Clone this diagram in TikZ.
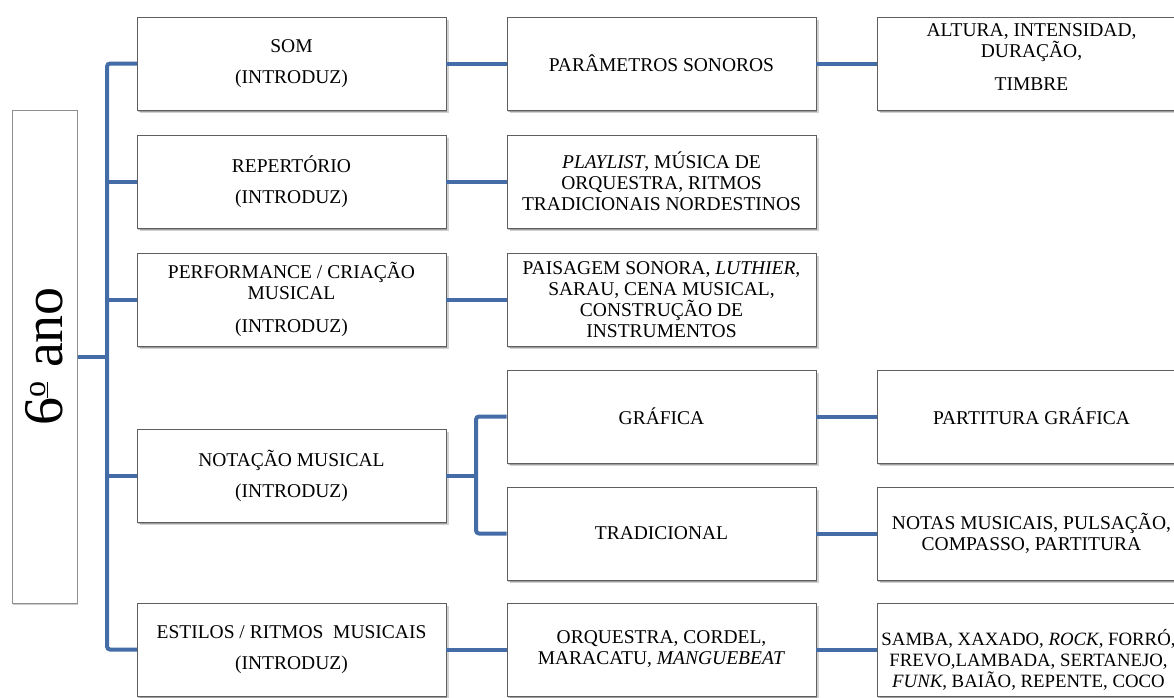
\documentclass[tikz,border=0pt]{standalone}
\usepackage{fontspec}
\setmainfont{Liberation Serif}
\usetikzlibrary{shadows}
\definecolor{linkblue}{RGB}{68,108,166}
\definecolor{boxline}{RGB}{95,95,95}
\begin{document}
\begin{tikzpicture}[x=1pt,y=-1pt,
  softshadow/.style={
    drop shadow={shadow xshift=2.6pt, shadow yshift=-3.2pt, opacity=0.18, fill=black},
    drop shadow={shadow xshift=1.4pt, shadow yshift=-2pt, opacity=0.25, fill=black}},
  box/.style={draw=boxline, line width=0.8pt, fill=white,
    minimum width=309pt, minimum height=93pt, inner sep=0pt,
    align=center, font=\fontsize{19.5}{21}\selectfont, softshadow},
  boxtext/.style={inner sep=0pt, align=center, font=\fontsize{19.5}{21}\selectfont},
  rootbox/.style={draw=boxline!70, line width=1pt, fill=white,
    minimum width=65pt, minimum height=493pt, inner sep=0pt,
    drop shadow={shadow xshift=1.2pt, shadow yshift=-1.5pt, opacity=0.2, fill=black}},
  link/.style={draw=linkblue, line width=4pt, rounded corners=3pt}
]
\useasboundingbox (0,0) rectangle (1174,697);
\begin{scope}
\clip (0,0) rectangle (1174,697);

% trunk ends and the fork of the notation branch
\coordinate (tt) at (107,63.5);
\coordinate (tb) at (107,649.5);
\coordinate (fork) at (476,475.5);
\coordinate (rootE) at (77,356.5);

% trunk with its stubs, drawn before the boxes
\draw[link] (137,63.5) -- (tt) -- (tb) -- (137,649.5);
\draw[link] (rootE) -- (107,356.5);
\draw[link] (137,181.5) -- (107,181.5);
\draw[link] (137,299.5) -- (107,299.5);
\draw[link] (137,475.5) -- (107,475.5);

% root
\node[rootbox] (root) at (44.5,356.5) {};
\node[rotate=90, font=\fontsize{56}{60}\selectfont, inner sep=0pt] (rootlabel) at (44.5,356.5)
  {6\raisebox{0.3em}{\fontsize{32}{32}\selectfont\underline{o}}\ ano};

% level 1 boxes
\node[box] (som) at (291.5,63.5) {SOM\\[10pt](INTRODUZ)};
\node[box] (rep) at (291.5,181.5) {REPERTÓRIO\\[10pt](INTRODUZ)};
\node[box] (perf) at (291.5,299.5) {PERFORMANCE / CRIAÇÃO\\MUSICAL\\[12pt](INTRODUZ)};
\node[box] (nota) at (291.5,475.5) {NOTAÇÃO MUSICAL\\[10pt](INTRODUZ)};
\node[box] (est) at (291.5,649.5) {ESTILOS / RITMOS \ MUSICAIS\\[10pt](INTRODUZ)};

% level 2 boxes
\node[box] (par) at (661.5,63.5) {PARÂMETROS SONOROS};
\node[box] (play) at (661.5,181.5) {\textit{PLAYLIST}, MÚSICA DE\\ORQUESTRA, RITMOS\\TRADICIONAIS NORDESTINOS};
\node[box] (pais) at (661.5,299.5) {PAISAGEM SONORA, \textit{LUTHIER,}\\SARAU, CENA MUSICAL,\\CONSTRUÇÃO DE\\INSTRUMENTOS};
\node[box] (graf) at (661.5,416.5) {GRÁFICA};
\node[box] (trad) at (661.5,533.5) {TRADICIONAL};
\node[box] (orq) at (661.5,649.5) {ORQUESTRA, CORDEL,\\MARACATU, \textit{MANGUEBEAT}};

% level 3 boxes
\node[box] (alt) at (1031.5,63.5) {};
\node[boxtext] (alttext) at ([yshift=6pt]alt.center) {ALTURA, INTENSIDAD,\\DURAÇÃO,\\[12pt]TIMBRE};
\node[box] (pgraf) at (1031.5,416.5) {PARTITURA GRÁFICA};
\node[box] (notas) at (1031.5,533.5) {NOTAS MUSICAIS, PULSAÇÃO,\\COMPASSO, PARTITURA};
\node[box] (samba) at (1031.5,649.5) {};
\node[boxtext, font=\fontsize{18.8}{21}\selectfont] (sambatext) at ([xshift=-3pt, yshift=-10pt]samba.center)
  {SAMBA, XAXADO, \textit{ROCK}, FORRÓ,\\FREVO,LAMBADA, SERTANEJO,\\\textit{FUNK}, BAIÃO, REPENTE, COCO};

% connectors between boxes
\draw[link] (som.east) -- (par.west);
\draw[link] (par.east) -- (alt.west);
\draw[link] (rep.east) -- (play.west);
\draw[link] (perf.east) -- (pais.west);
\draw[link] (nota.east) -- (fork);
\draw[link] (graf.west) -- (graf.west -| fork) -- (trad.west -| fork) -- (trad.west);
\draw[link] (graf.east) -- (pgraf.west);
\draw[link] (trad.east) -- (notas.west);
\draw[link] (est.east) -- (orq.west);
\draw[link] (orq.east) -- (samba.west);
\end{scope}
\end{tikzpicture}
\end{document}
